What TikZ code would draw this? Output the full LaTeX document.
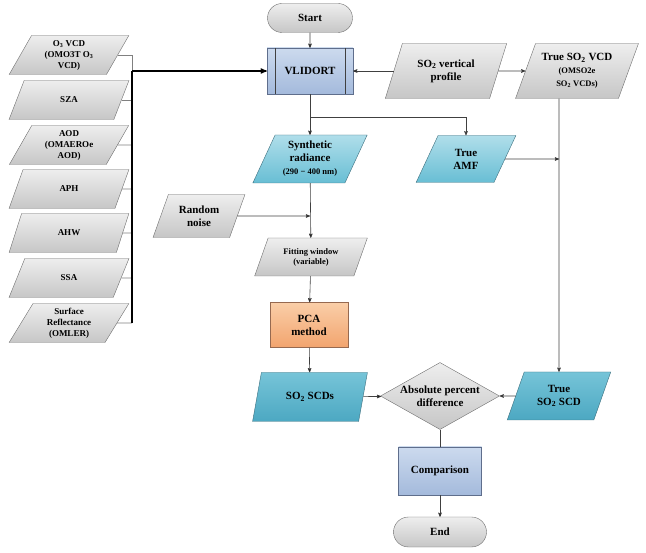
\documentclass[tikz,border=0pt]{standalone}
\usepackage{fontspec}
\setmainfont{Liberation Serif}
\usepackage{tikz}
\usetikzlibrary{arrows}
\usetikzlibrary{shapes.geometric,shapes.misc}
\definecolor{linegray}{RGB}{64,64,64}
\definecolor{edgegray}{RGB}{110,110,110}
\definecolor{graytop}{RGB}{238,238,238}
\definecolor{graybot}{RGB}{198,198,198}
\definecolor{cyantop}{RGB}{176,222,234}
\definecolor{cyanbot}{RGB}{104,190,212}
\definecolor{tealtop}{RGB}{118,196,216}
\definecolor{tealbot}{RGB}{76,168,194}
\definecolor{tealedge}{RGB}{60,110,125}
\definecolor{bluetop}{RGB}{204,218,238}
\definecolor{bluebot}{RGB}{164,186,220}
\definecolor{blueedge}{RGB}{95,110,140}
\definecolor{orangetop}{RGB}{250,206,168}
\definecolor{orangebot}{RGB}{242,164,110}
\definecolor{orangeedge}{RGB}{150,105,80}
\newcommand{\fcsmall}{\fontsize{8.5}{10}\selectfont}
\newcommand{\sub}[1]{\textsubscript{#1}}
\tikzset{
  fcnode/.style = {align=center, inner sep=0pt, text centered,
    font=\bfseries\fontsize{11}{13}\selectfont},
  fc_term/.style = {fcnode, rounded rectangle, draw=edgegray,
    top color=graytop, bottom color=graybot},% start / end
  fc_data/.style = {fcnode, trapezium, trapezium left angle=64,
    trapezium right angle=116, trapezium stretches=true, draw=edgegray,
    top color=graytop, bottom color=graybot},% data, grau
  fc_datal/.style = {fc_data, minimum width=120, minimum height=39,
    font=\bfseries\fontsize{9}{11}\selectfont},% inputs links
  fc_datac/.style = {fc_data, draw=tealedge,
    top color=cyantop, bottom color=cyanbot},% data, hell cyan
  fc_datat/.style = {fc_data, draw=tealedge,
    top color=tealtop, bottom color=tealbot},% data, dunkel cyan
  fc_proc/.style = {fcnode, rectangle, draw=blueedge,
    top color=bluetop, bottom color=bluebot},% prozess
  fc_pca/.style = {fcnode, rectangle, draw=orangeedge,
    top color=orangetop, bottom color=orangebot},
  fc_dec/.style = {diamond, draw=edgegray, inner sep=0pt,
    top color=graytop, bottom color=graybot},% entscheidung
  conn/.style = {draw=linegray, line width=0.6pt},
  stub/.style = {draw=gray, line width=0.6pt, -},
  bus/.style = {draw=black, line width=1.2pt, -},
}

\begin{document}
\begin{tikzpicture}[x=1pt,y=-1pt,->,>=stealth']
  \useasboundingbox (0,0) rectangle (646,553);

  %   inputs
  \foreach \y/\n/\txt in {{55/1/O\sub{3} VCD\\(OMO3T O\sub{3}\\VCD)},
      {100/2/SZA}, {145/3/AOD\\(OMAEROe\\AOD)}, {189/4/APH},
      {233/5/AHW}, {278/6/SSA}, {323/7/Surface\\Reflectance\\(OMLER)}}
  \node[fc_datal] (in\n) at (69,\y) {\txt};
  \coordinate (bus1) at (132,71);
  \coordinate (bus2) at (132,323);

  %   main column
  \node[fc_term, minimum width=85, minimum height=29] (start) at (310,18) {Start};
  \node[fc_proc, minimum width=86, minimum height=46] (vlidort) at (310,71) {VLIDORT};
  \node[fc_data, minimum width=122, minimum height=55] (prof) at (446,71)
    {SO\sub{2} vertical\\profile};
  \node[fc_data, minimum width=123, minimum height=55] (vcd) at (577,71)
    {True SO\sub{2} VCD\\{\fcsmall (OMSO2e}\\{\fcsmall SO\sub{2} VCDs)}};
  \node[fc_datac, minimum width=115, minimum height=48] (synth) at (310,159)
    {Synthetic\\radiance\\{\fcsmall (290 − 400 nm)}};
  \node[fc_datac, minimum width=100, minimum height=47] (amf) at (466,159)
    {True\\AMF};
  \node[fc_data, minimum width=92, minimum height=43] (noise) at (199,216)
    {Random\\noise};
  \node[fc_data, minimum width=113, minimum height=38, font=\bfseries\fcsmall]
    (fitwin) at (311,257) {Fitting window\\(variable)};
  \node[fc_pca, minimum width=78, minimum height=45] (pca) at (309,325)
    {PCA\\method};
  \node[fc_datat, minimum width=115, minimum height=49] (scds) at (310,397)
    {SO\sub{2} SCDs};
  \node[fc_dec, minimum width=119, minimum height=67] (apd) at (440,396) {};
  \node[fcnode] (apdtxt) at (apd) {Absolute percent\\difference};
  \node[fc_datat, minimum width=104, minimum height=48] (tscd) at (559,396)
    {True\\SO\sub{2} SCD};
  \node[fc_proc, minimum width=83, minimum height=48] (comp) at (440,471)
    {Comparison};
  \node[fc_term, minimum width=93, minimum height=30] (end) at (440,532) {End};

  \draw[conn,-] ([xshift=8pt]vlidort.north west) -- ([xshift=8pt]vlidort.south west);
  \draw[conn,-] ([xshift=-8pt]vlidort.north east) -- ([xshift=-8pt]vlidort.south east);

  \coordinate (j1) at (310,117);
  \coordinate (j2) at (310,216);
  \coordinate (j3) at (559,159);

  %   inputs to VLIDORT
  \draw[stub] (in1) -| (bus1);
  \foreach \n in {2,...,7}
  \draw[stub] (in\n) -- (in\n -| bus1);
  \draw[bus] (bus1) -- (bus2);
  \draw[conn,line width=1.2pt,draw=black] (bus1) -- (vlidort);

  %   flow
  \path[conn] (start) edge (vlidort);
  \path[conn] (prof) edge (vlidort);
  \path[conn] (prof) edge (vcd);
  \path[conn] (vlidort) edge (synth);
  \draw[conn] (j1) -| (amf);
  \path[conn] (synth) edge (fitwin);
  \path[conn] (noise) edge (j2);
  \path[conn] (amf) edge (j3);
  \draw[conn] (vcd.south -| tscd) -- (tscd);
  \path[conn] (fitwin) edge (pca);
  \path[conn] (pca) edge (scds);
  \path[conn] (scds) edge (apd);
  \path[conn] (tscd) edge (apd);
  \draw[conn,-] (apd) -- (comp);
  \path[conn] (comp) edge (end);
\end{tikzpicture}
\end{document}
